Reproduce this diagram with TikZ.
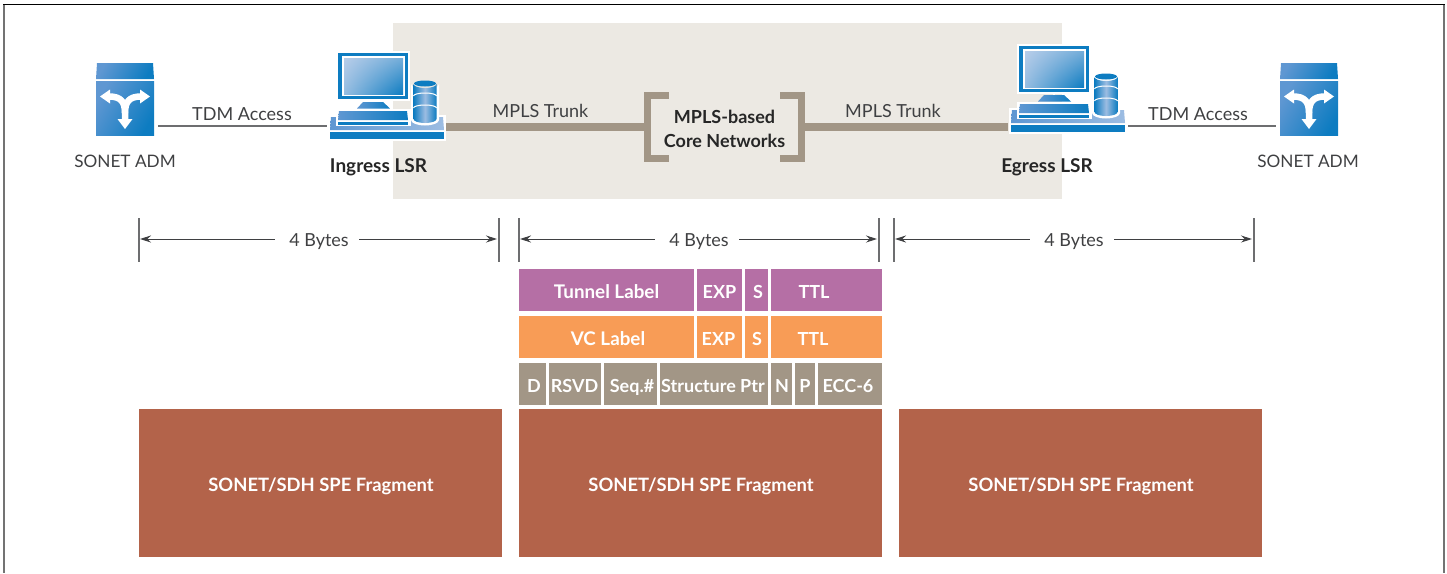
\documentclass[tikz,border=0pt]{standalone}
\usepackage{fontspec}
\setmainfont{Lato}
\usetikzlibrary{arrows.meta,calc,shadings}
\definecolor{coreBg}{HTML}{ECE9E3}
\definecolor{taupe}{HTML}{A29686}
\definecolor{plum}{HTML}{B56FA5}
\definecolor{amber}{HTML}{F89C56}
\definecolor{brick}{HTML}{B3634A}
\definecolor{azure}{HTML}{0D7CC1}
\definecolor{skyblue}{HTML}{B7CDE9}
\definecolor{midblue}{HTML}{5F97D2}
\definecolor{inkgray}{HTML}{3F4042}
\definecolor{wire}{HTML}{6D6E70}
\newcommand{\sz}[2]{{\fontsize{#1}{20}\selectfont #2}}
\tikzset{
  x=1pt,y=-1pt,
  plain/.style={inner sep=0pt,text height=13pt,text depth=0pt,font=\fontsize{18}{20}\selectfont,text=inkgray},
  strong/.style={inner sep=0pt,text height=13.5pt,text depth=0pt,font=\fontsize{19}{24}\selectfont\bfseries,text=black!85},
  corelabel/.style={inner sep=0pt,font=\fontsize{18}{24}\selectfont\bfseries,text=black!85},
  cellbox/.style={draw=none,inner sep=0pt,outer sep=0pt,anchor=north west},
  celltext/.style={inner sep=0pt,text height=13pt,text depth=0pt,font=\fontsize{18}{20}\selectfont\bfseries,text=white},
  trunk/.style={draw=taupe,line width=7.5pt},
  access/.style={draw=wire,line width=1.5pt},
  bytes/.style={draw=inkgray,line width=1pt,-{Stealth[length=11pt,width=7pt]}},
  tick/.style={draw=wire,line width=1.2pt},
  adm/.pic={
    \shade[left color=midblue,right color=azure,shading angle=60] (1,0) -- (57,0) -- (58,16) -- (0,16) -- cycle;
    \shade[left color=midblue,right color=azure,shading angle=60] (0,18) rectangle (58,72);
    \draw[white,line width=6.5pt] (29,58) -- (29,50) .. controls (29,39) and (25,33.5) .. (13,33.5);
    \draw[white,line width=6.5pt] (29,50) .. controls (29,39) and (33,33.5) .. (45,33.5);
    \fill[white] (4,33.5) -- (14,26.5) -- (14,40.5) -- cycle;
    \fill[white] (54,33.5) -- (44,26.5) -- (44,40.5) -- cycle;
    \fill[white] (29,66) -- (21.5,56) -- (36.5,56) -- cycle;
  },
  lsr/.pic={
    % base
    \fill[white] (328,115) rectangle (446,141);
    \shade[left color=midblue,right color=skyblue!70!midblue] (331,117) -- (443,117) -- (444,130) -- (330,130) -- cycle;
    \fill[azure] (330,131.5) rectangle (444,139);
    % keyboard
    \fill[white] (336,109) rectangle (411,126);
    \shade[left color=midblue,right color=azure] (339,111) -- (407,111) -- (408,120) -- (338,120) -- cycle;
    \fill[azure] (338,121.5) rectangle (408,124.5);
    % monitor
    \fill[white] (336,51) rectangle (410,101);
    \fill[azure] (338,53) rectangle (408,99);
    \fill[white] (342,56) rectangle (405,96);
    \shade[upper left=skyblue,upper right=skyblue!60!azure,lower left=skyblue!80!azure,lower right=azure] (344,58) rectangle (403,94);
    \fill[white] (372,99) rectangle (374,102);
    \shade[left color=midblue,right color=azure] (363,102) -- (383,102) -- (390,108.5) -- (357,108.5) -- cycle;
    % drum
    \fill[white] (411,84) arc[start angle=180,end angle=0,x radius=14,y radius=5.5] -- (439,120) arc[start angle=0,end angle=180,x radius=14,y radius=5.5] -- cycle;
    \shade[left color=azure,right color=azure,middle color=skyblue!70!midblue] (413.5,84) arc[start angle=180,end angle=0,x radius=11.5,y radius=4] -- (436.5,119) arc[start angle=0,end angle=180,x radius=11.5,y radius=4] -- cycle;
    \fill[azure] (425,83.5) ellipse[x radius=11,y radius=3];
    \draw[white,line width=1pt] (413.5,96) arc[start angle=180,end angle=360,x radius=11.5,y radius=3];
    \draw[white,line width=1pt] (413.5,108) arc[start angle=180,end angle=360,x radius=11.5,y radius=3];
  },
}
\newcommand{\cellrow}[8]{% name x1 y1 x2 y2 colour textx text
  \node[cellbox,fill=#6,minimum width=#4pt-#2pt,minimum height=#5pt-#3pt] (#1) at (#2,#3) {};
  \node[celltext] (#1t) at (#7,#3+0.5*#5-0.5*#3+1.5) {#8};
}
\begin{document}
\begin{tikzpicture}
\useasboundingbox (0,0) rectangle (1447,573);
% frame
\draw[draw=black!55,line width=2pt] (4,5) -- (4,573);
\draw[draw=black!55,line width=2pt] (1444,5) -- (1444,573);
\draw[draw=black,line width=1.2pt] (3,4.5) -- (1445,4.5);
% core cloud
\fill[coreBg] (393,23) rectangle (1062,199);

\node[inner sep=0pt,minimum width=161pt,minimum height=70pt] (core) at (724.5,127) {};
\node[corelabel,align=center] (coretext) at (724.5,129) {MPLS-based\\Core Networks};
\pic (admL) at (96,63) {adm};
\pic (admR) at (1280,63) {adm};
\coordinate (admLe) at (158,126);
\coordinate (admRw) at (1276,126);
\coordinate (lsrIw) at (327,126);
\coordinate (lsrIe) at (445,127);
\coordinate (lsrEw) at (1008,127);
\coordinate (lsrEe) at (1128,126);

% connectors
\draw[trunk] (lsrIe) -- (core.west);
\draw[trunk] (core.east) -- (lsrEw);
\draw[access] (admLe) -- (lsrIw);
\draw[access] (lsrEe) -- (admRw);

\pic (lsrI) at (0,0) {lsr};
\pic (lsrE) at (681,-7) {lsr};

% brackets
\draw[draw=taupe,line width=7pt,line cap=butt] ($(core.north west)+(25,3.5)$) -| ($(core.west)+(3.5,0)$) |- ($(core.south west)+(25,-3.5)$);
\draw[draw=taupe,line width=7pt,line cap=butt] ($(core.north east)+(-25,3.5)$) -| ($(core.east)+(-3.5,0)$) |- ($(core.south east)+(-25,-3.5)$);

% labels
\node[plain] (l1) at (242,113.5) {TDM Access};
\node[plain] (l2) at (1198,113.5) {TDM Access};
\node[plain] (l3) at (540.5,111) {MPLS Trunk};
\node[plain] (l4) at (893,111) {MPLS Trunk};
\node[plain,font=\fontsize{17.2}{20}\selectfont] (l5) at (125,161) {SONET ADM};
\node[plain,font=\fontsize{17.2}{20}\selectfont] (l6) at (1308,161) {SONET ADM};
\node[strong] (l7) at (378.5,166) {Ingress LSR};
\node[strong] (l8) at (1047,166) {Egress LSR};

% byte dimensions
\foreach \n/\xa/\xb/\xl in {a/139/499/319,b/519/879/699,c/894/1254/1074}{
  \coordinate (t\n l1) at (\xa,218);
  \coordinate (t\n l2) at (\xa,262);
  \coordinate (t\n r1) at (\xb,218);
  \coordinate (t\n r2) at (\xb,262);
  \coordinate (t\n la) at (\xa+1,239);
  \coordinate (t\n ra) at (\xb-2,239);
  \draw[tick] (t\n l1) -- (t\n l2);
  \draw[tick] (t\n r1) -- (t\n r2);
  \node[plain] (t\n) at (\xl,239.5) {4 Bytes};
  \node[inner sep=0pt,minimum width=84pt,minimum height=16pt] (g\n) at (\xl-2,239.5) {};
  \draw[bytes] (g\n.west |- t\n la) -- (t\n la);
  \draw[bytes] (g\n.east |- t\n ra) -- (t\n ra);
}

% label stack
\cellrow{ta}{519}{269}{694}{311}{plum}{606.5}{\sz{18.8}{Tunnel Label}}
\cellrow{tb}{697}{269}{742}{311}{plum}{719.5}{EXP}
\cellrow{tc}{745}{269}{768}{311}{plum}{758}{S}
\cellrow{td}{771}{269}{882}{311}{plum}{814}{TTL}
\cellrow{va}{519}{316}{694}{358}{amber}{608}{\sz{18.8}{VC Label}}
\cellrow{vb}{697}{316}{742}{358}{amber}{718.5}{EXP}
\cellrow{vc}{745}{316}{768}{358}{amber}{757}{S}
\cellrow{vd}{771}{316}{882}{358}{amber}{813}{TTL}
\cellrow{ga}{519}{363}{546}{405}{taupe}{534}{D}
\cellrow{gb}{549}{363}{601}{405}{taupe}{574.5}{RSVD}
\cellrow{gc}{604}{363}{657}{405}{taupe}{632}{Seq.\#}
\cellrow{gd}{660}{363}{768}{405}{taupe}{713}{Structure Ptr}
\cellrow{ge}{771}{363}{792}{405}{taupe}{782}{N}
\cellrow{gf}{795}{363}{815}{405}{taupe}{805}{P}
\cellrow{gg}{818}{363}{882}{405}{taupe}{848}{ECC-6}
\cellrow{fa}{139}{409}{502}{557}{brick}{321}{\sz{18.4}{SONET/SDH SPE Fragment}}
\cellrow{fb}{519}{409}{882}{557}{brick}{701}{\sz{18.4}{SONET/SDH SPE Fragment}}
\cellrow{fc}{899}{409}{1262}{557}{brick}{1081}{\sz{18.4}{SONET/SDH SPE Fragment}}
\end{tikzpicture}
\end{document}
